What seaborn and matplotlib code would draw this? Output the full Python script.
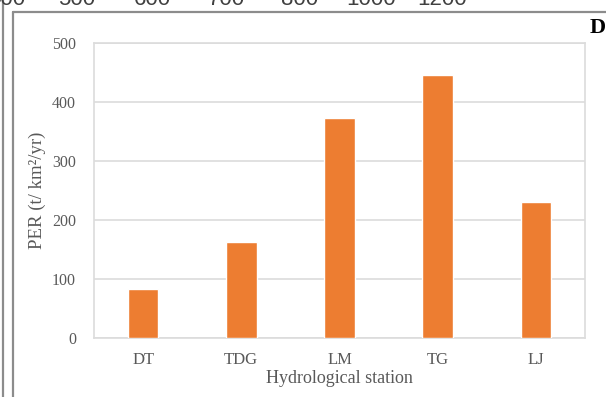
import matplotlib
matplotlib.use("Agg")
import matplotlib.pyplot as plt
from matplotlib.lines import Line2D
import seaborn as sns
import pandas as pd

# Particulate export rate per hydrological station
stations = ["DT", "TDG", "LM", "TG", "LJ"]
per_values = [83, 164, 373, 447, 231]

# Axis ticks of the neighbouring panel above (only their lower edge shows)
upper_panel_ticks = ["400", "500", "600", "700", "800", "1000", "1200"]
upper_panel_tick_x = [7, 77, 152, 226, 300, 371, 442]

df = pd.DataFrame({"station": stations, "per": per_values})

sns.set_theme(style="white")
plt.rcParams["font.family"] = ["Liberation Serif", "DejaVu Serif"]

W, H = 606, 397
fig = plt.figure(figsize=(W / 100, H / 100), dpi=100)
ax = fig.add_axes([94 / W, 1 - 338.3 / H, (585 - 94) / W, (338.3 - 43.3) / H])

sns.barplot(data=df, x="station", y="per", color="#ED7D31", width=0.31,
            saturation=1, ax=ax, zorder=3)

ax.set_ylim(0, 500)
ax.set_yticks([0, 100, 200, 300, 400, 500])
ax.yaxis.grid(True, color="#dcdcdc", linewidth=1.2, zorder=0)
ax.set_axisbelow(True)
for sp in ax.spines.values():
    sp.set_visible(True)
    sp.set_color("#dcdcdc")
    sp.set_linewidth(1.2)

ax.tick_params(axis="y", length=0, pad=13, labelsize=11.5, labelcolor="#595959")
ax.tick_params(axis="x", length=0, pad=10, labelsize=12, labelcolor="#595959")
ax.set_xlabel("Hydrological station", fontsize=13, color="#595959", labelpad=1)
ax.set_ylabel("PER (t/ km²/yr)", fontsize=13.5, color="#595959", labelpad=4)

# Panel letter
fig.text(606 / W, 1 - 28 / H, "D", ha="right", va="center",
         fontsize=16, fontweight="bold", color="black")

# Panel frame lines
frame = dict(color="#8c8c8c", linewidth=1.6, transform=fig.transFigure)
fig.add_artist(Line2D([3 / W, 3 / W], [0, 1], **frame))
fig.add_artist(Line2D([13 / W, 13 / W], [0, 1 - 11.5 / H], **frame))
fig.add_artist(Line2D([13 / W, 1], [1 - 11.5 / H, 1 - 11.5 / H], **frame))

# Tick labels of the panel above, cut by the top edge
for lab, xp in zip(upper_panel_ticks, upper_panel_tick_x):
    fig.text(xp / W, 1 - 5 / H, lab, ha="center", va="baseline",
             fontsize=16, color="#404040", family=["Liberation Sans", "DejaVu Sans"])

fig.savefig("out.png", dpi=100)
